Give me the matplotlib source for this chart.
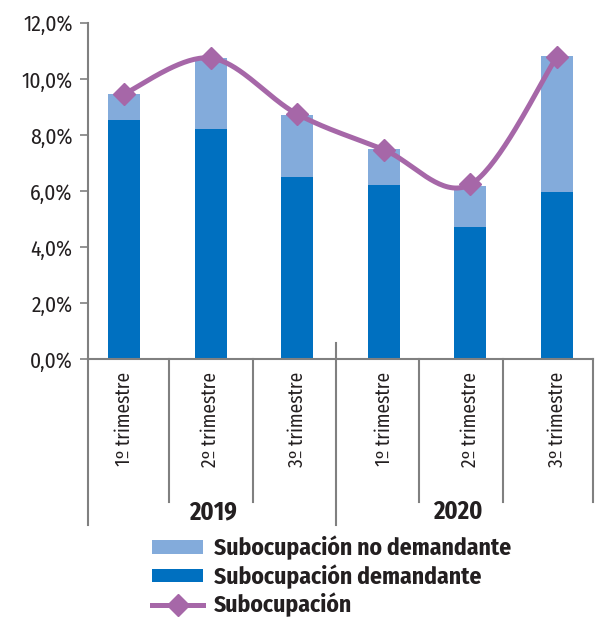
import numpy as np
import matplotlib
matplotlib.use("Agg")
import matplotlib.pyplot as plt
from matplotlib import font_manager
from matplotlib.lines import Line2D
from matplotlib.patches import Patch
from matplotlib.transforms import blended_transform_factory

# ---------------- data ----------------
categories = ["1º trimestre", "2º trimestre", "3º trimestre",
              "1º trimestre", "2º trimestre", "3º trimestre"]
years = ["2019", "2020"]
demandante = [8.55, 8.22, 6.49, 6.22, 4.72, 5.97]
no_demandante = [0.92, 2.54, 2.23, 1.29, 1.47, 4.86]
subocupacion = [9.47, 10.75, 8.75, 7.48, 6.24, 10.80]
y_ticks = [0, 2, 4, 6, 8, 10, 12]
legend_labels = ["Subocupación no demandante", "Subocupación demandante", "Subocupación"]

# ---------------- style ----------------
c_dark = "#0070C0"
c_light = "#83ABDB"
c_line = "#A667A8"
c_axis = "#808080"
c_text = "#231F20"

names = {f.name for f in font_manager.fontManager.ttflist}
FONT = "Liberation Sans"
for cand in ["Myriad Pro Condensed", "Fira Sans Condensed", "PT Sans Narrow",
             "Open Sans Condensed", "Roboto Condensed", "Asap Condensed",
             "Barlow Semi Condensed", "Archivo Narrow"]:
    if cand in names:
        FONT = cand
        break
plt.rcParams["font.family"] = [FONT, "DejaVu Sans"]

W, H = 596, 618
fig = plt.figure(figsize=(W / 100, H / 100), dpi=100)
renderer = fig.canvas.get_renderer()


def fit_size(s, target_px, weight="normal"):
    t = fig.text(0, 0, s, fontsize=20, fontweight=weight)
    w = t.get_window_extent(renderer).width
    t.remove()
    return 20 * target_px / w


fs_y = fit_size("12,0%", 50)
fs_x = fit_size("1º trimestre", 94)
fs_year = fit_size("2019", 48, "bold")
fs_leg = fit_size(legend_labels[0], 298, "bold")

ax_left, ax_right, ax_bottom, ax_top = 88, 593, 359.3, 23
ax = fig.add_axes([ax_left / W, (H - ax_bottom) / H,
                   (ax_right - ax_left) / W, (ax_bottom - ax_top) / H])
ax_h = ax_bottom - ax_top
ax_w = ax_right - ax_left

x = np.arange(len(categories))
bw = 0.37
ax.bar(x, demandante, width=bw, color=c_dark, zorder=2)
ax.bar(x, no_demandante, width=bw, bottom=demandante, color=c_light, zorder=2)

# smoothed line (Bezier through the data points, like a spreadsheet "smoothed line")
px = x.astype(float)
py = np.array(subocupacion, dtype=float)
curve_x, curve_y = [], []
n = len(px)
t = np.linspace(0, 1, 40)
for i in range(n - 1):
    p0 = np.array([px[i], py[i]])
    p3 = np.array([px[i + 1], py[i + 1]])
    pm = np.array([px[i - 1], py[i - 1]]) if i > 0 else p0
    pp = np.array([px[i + 2], py[i + 2]]) if i + 2 < n else p3
    c1 = p0 + (p3 - pm) / 6.0
    c2 = p3 - (pp - p0) / 6.0
    seg = ((1 - t) ** 3)[:, None] * p0 + (3 * (1 - t) ** 2 * t)[:, None] * c1 \
        + (3 * (1 - t) * t ** 2)[:, None] * c2 + (t ** 3)[:, None] * p3
    curve_x.extend(seg[:, 0]); curve_y.extend(seg[:, 1])
ax.plot(curve_x, curve_y, color=c_line, lw=3.6, zorder=3, solid_capstyle="round")
ax.plot(px, py, ls="none", marker="D", ms=11, color=c_line, zorder=4)

ax.set_xlim(-0.416, 5.416)
ax.set_ylim(0, 12)
ax.set_yticks(y_ticks)
ax.set_yticklabels([f"{v:.1f}%".replace(".", ",") for v in y_ticks],
                   fontsize=fs_y, color=c_text)
ax.tick_params(axis="y", length=6, width=1.2, color=c_axis, pad=5)
ax.set_xticks(x)
ax.set_xticklabels(categories, rotation=90, fontsize=fs_x, color=c_text)
ax.tick_params(axis="x", length=0, pad=9)
for s in ["top", "right"]:
    ax.spines[s].set_visible(False)
for s in ["left", "bottom"]:
    ax.spines[s].set_color(c_axis)
    ax.spines[s].set_linewidth(1.5)

tr = ax.transAxes


def fy(py_px):
    return (ax_bottom - py_px) / ax_h


def fx(px_px):
    return (px_px - ax_left) / ax_w


inner_low = fy(502)
outer_low = fy(525)
for b in [169, 253, 419, 503, 593]:
    ax.add_line(Line2D([fx(b), fx(b)], [0, inner_low], transform=tr, color=c_axis,
                       lw=1.5, clip_on=False))
for b in [88, 336]:
    top = fy(343) if b == 336 else 0
    ax.add_line(Line2D([fx(b), fx(b)], [top, outer_low], transform=tr, color=c_axis,
                       lw=1.5, clip_on=False))

for yr, cx in zip(years, [212.5, 457.5]):
    ax.text(fx(cx), fy(512), yr, transform=tr, ha="center", va="center",
            fontsize=fs_year, fontweight="bold", color=c_text)

handles = [Patch(facecolor=c_light, edgecolor="none"),
           Patch(facecolor=c_dark, edgecolor="none"),
           Line2D([], [], color=c_line, lw=3.6, marker="D", ms=11)]
fs_leg_px = fs_leg * 100 / 72


def make_legend(spacing, top_px):
    return fig.legend(handles, legend_labels, loc="upper left",
                      bbox_to_anchor=(152 / W, 1 - top_px / H), frameon=False,
                      prop={"size": fs_leg, "weight": "bold"},
                      handlelength=51 / fs_leg_px, handleheight=0.5,
                      handletextpad=11 / fs_leg_px,
                      labelspacing=spacing, borderpad=0, borderaxespad=0)


spacing, top_px = 0.2, 534
for _ in range(3):
    leg = make_legend(spacing, top_px)
    fig.canvas.draw()
    ys = [H - tx.get_window_extent(renderer).y0 - tx.get_window_extent(renderer).height / 2
          for tx in leg.get_texts()]
    gap = (ys[2] - ys[0]) / 2
    spacing += (28.5 - gap) / fs_leg_px
    top_px += 548 - ys[0]
    leg.remove()
leg = make_legend(spacing, top_px)
for txt in leg.get_texts():
    txt.set_color(c_text)

fig.savefig("out.png", dpi=100)
